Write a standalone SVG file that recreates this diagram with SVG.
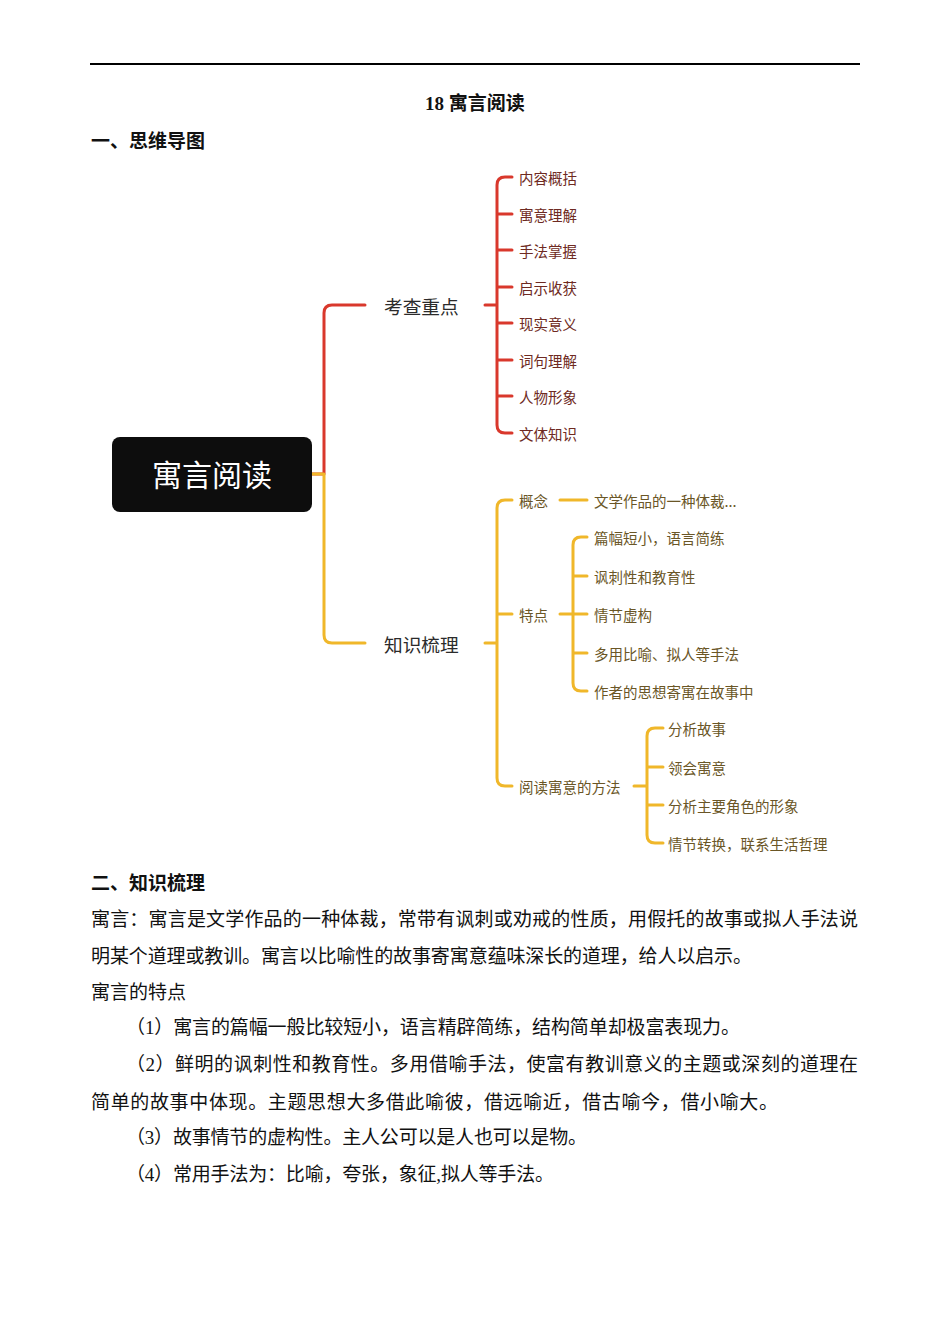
<svg xmlns="http://www.w3.org/2000/svg" width="950" height="1344" viewBox="0 0 950 1344">
<style>
.red{fill:none;stroke:#d9382c;stroke-width:3;stroke-linecap:round;stroke-linejoin:round}
.yel{fill:none;stroke:#f0b72a;stroke-width:3;stroke-linecap:round;stroke-linejoin:round}
.sans{font-family:"Noto Sans CJK SC","Noto Sans",sans-serif}
.serif{font-family:"Liberation Serif","Noto Sans CJK SC",serif}
.main{font-size:18.7px;fill:#2b2b2b;dominant-baseline:central}
.rc{font-size:14.5px;fill:#6e2a22;dominant-baseline:central}
.yc{font-size:14.5px;fill:#6a5626;dominant-baseline:central}
.body{font-size:19px;fill:#111}
.head{font-size:19px;font-weight:bold;fill:#111}
</style>
<rect width="950" height="1344" fill="#ffffff"/>
<line x1="90" y1="64" x2="860" y2="64" stroke="#000" stroke-width="2"/>
<text class="serif head" x="475" y="110" text-anchor="middle" font-size="18">18 寓言阅读</text>
<text class="sans head" x="91" y="148">一、思维导图</text>

<g id="connectors">
<path class="red" d="M312,474 H324 V313 Q324,305 332,305 H365"/>
<path class="yel" d="M312,474 H324 V635 Q324,643 332,643 H365"/>
<path class="red" d="M485,305 H497 M512,177 H505 Q497,177 497,185 V425 Q497,433 505,433 H512 M497,214 H512 M497,250 H512 M497,287 H512 M497,323 H512 M497,360 H512 M497,396 H512"/>
<path class="yel" d="M485,643 H497 M512,500 H505 Q497,500 497,508 V778 Q497,786 505,786 H512 M497,614 H512"/>
<path class="yel" d="M560,500 H587"/>
<path class="yel" d="M560,614 H587 M587,537 H581 Q573,537 573,545 V683 Q573,691 581,691 H587 M573,576 H587 M573,653 H587"/>
<path class="yel" d="M634,786 H647 M663,728 H655 Q647,728 647,736 V835 Q647,843 655,843 H663 M647,767 H663 M647,805 H663"/>
</g>

<g id="root">
<rect x="112" y="437" width="200" height="75" rx="8" fill="#0d0d0d"/>
<text class="sans" x="212" y="473" font-size="30" fill="#ffffff" text-anchor="middle" dominant-baseline="central">寓言阅读</text>
</g>
<g id="kaocha"><text class="sans main" x="384" y="305">考查重点</text></g>
<g id="zhishi"><text class="sans main" x="384" y="643">知识梳理</text></g>

<g id="kaocha-children">
<text class="sans rc" x="519" y="177">内容概括</text>
<text class="sans rc" x="519" y="214">寓意理解</text>
<text class="sans rc" x="519" y="250">手法掌握</text>
<text class="sans rc" x="519" y="287">启示收获</text>
<text class="sans rc" x="519" y="323">现实意义</text>
<text class="sans rc" x="519" y="360">词句理解</text>
<text class="sans rc" x="519" y="396">人物形象</text>
<text class="sans rc" x="519" y="433">文体知识</text>
</g>

<g id="gainian"><text class="sans yc" x="519" y="500">概念</text></g>
<g id="gainian-child"><text class="sans yc" x="594" y="500">文学作品的一种体裁...</text></g>
<g id="tedian"><text class="sans yc" x="519" y="614">特点</text></g>
<g id="tedian-children">
<text class="sans yc" x="594" y="537">篇幅短小，语言简练</text>
<text class="sans yc" x="594" y="576">讽刺性和教育性</text>
<text class="sans yc" x="594" y="614">情节虚构</text>
<text class="sans yc" x="594" y="653">多用比喻、拟人等手法</text>
<text class="sans yc" x="594" y="691">作者的思想寄寓在故事中</text>
</g>
<g id="fangfa"><text class="sans yc" x="519" y="786">阅读寓意的方法</text></g>
<g id="fangfa-children">
<text class="sans yc" x="668" y="728">分析故事</text>
<text class="sans yc" x="668" y="767">领会寓意</text>
<text class="sans yc" x="668" y="805">分析主要角色的形象</text>
<text class="sans yc" x="668" y="843">情节转换，联系生活哲理</text>
</g>

<text class="sans head" x="91" y="890">二、知识梳理</text>
<text class="serif body" x="91" y="926" textLength="767" lengthAdjust="spacing">寓言：寓言是文学作品的一种体裁，常带有讽刺或劝戒的性质，用假托的故事或拟人手法说</text>
<text class="serif body" x="91" y="963" textLength="661" lengthAdjust="spacing">明某个道理或教训。寓言以比喻性的故事寄寓意蕴味深长的道理，给人以启示。</text>
<text class="serif body" x="91" y="999">寓言的特点</text>
<text class="serif body" x="126" y="1034" textLength="614" lengthAdjust="spacing">（1）寓言的篇幅一般比较短小，语言精辟简练，结构简单却极富表现力。</text>
<text class="serif body" x="126" y="1071" textLength="732" lengthAdjust="spacing">（2）鲜明的讽刺性和教育性。多用借喻手法，使富有教训意义的主题或深刻的道理在</text>
<text class="serif body" x="91" y="1109" textLength="687" lengthAdjust="spacing">简单的故事中体现。主题思想大多借此喻彼，借远喻近，借古喻今，借小喻大。</text>
<text class="serif body" x="126" y="1144" textLength="461" lengthAdjust="spacing">（3）故事情节的虚构性。主人公可以是人也可以是物。</text>
<text class="serif body" x="126" y="1181" textLength="428" lengthAdjust="spacing">（4）常用手法为：比喻，夸张，象征,拟人等手法。</text>
</svg>
